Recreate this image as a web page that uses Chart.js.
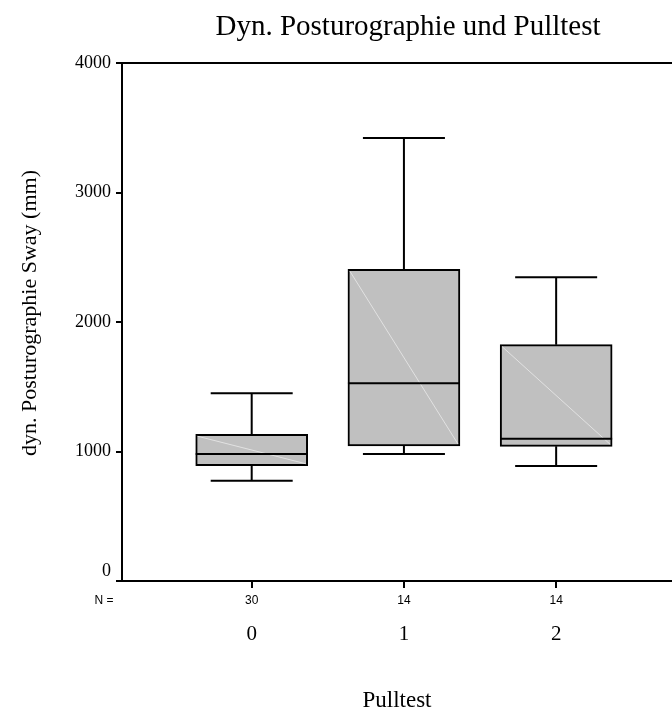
<!DOCTYPE html>
<html><head><meta charset="utf-8">
<script src="https://cdn.jsdelivr.net/npm/chart.js@4.4.0/dist/chart.umd.min.js"></script>
<style>html,body{margin:0;padding:0;background:#fff;}</style>
</head><body>
<canvas id="c" width="672" height="711" style="display:block;width:672px;height:711px"></canvas>
<script>
// ---- data ----
const categories = ['0', '1', '2'];
const nCounts = [30, 14, 14];
const whiskerLow = [774, 981, 888];
const q1 = [890, 1043, 1040];
const median = [981, 1527, 1099];
const q3 = [1133, 2407, 1825];
const whiskerHigh = [1449, 3421, 2345];
const yTicks = [0, 1000, 2000, 3000, 4000];

const titleText = 'Dyn. Posturographie und Pulltest';
const yTitle = 'dyn. Posturographie Sway (mm)';
const xTitle = 'Pulltest';
const nLabel = 'N =';

const SERIF = '"Liberation Serif", "Times New Roman", serif';
const SANS = '"Liberation Sans", Arial, sans-serif';

const boxParts = {
  id: 'boxParts',
  afterDatasetsDraw(chart) {
    const { ctx, scales: { x, y } } = chart;
    const meta = chart.getDatasetMeta(0);
    const capHalf = 41;
    ctx.save();
    categories.forEach((c, i) => {
      const bar = meta.data[i];
      const p = bar.getProps(['x', 'width'], true);
      const cx = x.getPixelForValue(i);
      const left = p.x - p.width / 2, right = p.x + p.width / 2;
      const yQ1 = y.getPixelForValue(q1[i]), yQ3 = y.getPixelForValue(q3[i]);
      // faint diagonal
      ctx.strokeStyle = '#e2e2e2';
      ctx.lineWidth = 1;
      ctx.beginPath();
      ctx.moveTo(left + 2, yQ3 + 2);
      ctx.lineTo(right - 2, yQ1 - 2);
      ctx.stroke();
      ctx.strokeStyle = '#000';
      ctx.lineWidth = 2;
      // median
      const yM = y.getPixelForValue(median[i]);
      ctx.beginPath(); ctx.moveTo(left, yM); ctx.lineTo(right, yM); ctx.stroke();
      // whiskers
      const yH = y.getPixelForValue(whiskerHigh[i]);
      const yL = y.getPixelForValue(whiskerLow[i]);
      ctx.beginPath();
      ctx.moveTo(cx, yQ3); ctx.lineTo(cx, yH);
      ctx.moveTo(cx - capHalf, yH); ctx.lineTo(cx + capHalf, yH);
      ctx.moveTo(cx, yQ1); ctx.lineTo(cx, yL);
      ctx.moveTo(cx - capHalf, yL); ctx.lineTo(cx + capHalf, yL);
      ctx.stroke();
    });
    ctx.restore();
  },
  afterDraw(chart) {
    const { ctx, chartArea, scales: { x } } = chart;
    ctx.save();
    // top frame line
    ctx.strokeStyle = '#000';
    ctx.lineWidth = 2;
    ctx.beginPath();
    ctx.moveTo(chartArea.left, chartArea.top);
    ctx.lineTo(chartArea.right, chartArea.top);
    ctx.stroke();
    ctx.fillStyle = '#000';
    ctx.textAlign = 'center';
    ctx.textBaseline = 'middle';
    // title
    ctx.font = '29px ' + SERIF;
    ctx.fillText(titleText, 408, 27);
    // y axis title
    ctx.save();
    ctx.translate(30, 313);
    ctx.rotate(-Math.PI / 2);
    ctx.font = '22px ' + SERIF;
    ctx.fillText(yTitle, 0, 0);
    ctx.restore();
    // N row
    ctx.font = '12px ' + SANS;
    ctx.fillText(nLabel, 104, 601);
    nCounts.forEach((n, i) => ctx.fillText(String(n), x.getPixelForValue(i), 601));
    ctx.restore();
  }
};

new Chart(document.getElementById('c'), {
  type: 'bar',
  data: {
    datasets: [{
      data: categories.map((c, i) => ({ x: i, y: [q1[i], q3[i]] })),
      backgroundColor: '#c0c0c0',
      borderColor: '#000',
      borderWidth: 2,
      borderSkipped: false,
      barThickness: 112
    }]
  },
  options: {
    responsive: false,
    animation: false,
    devicePixelRatio: 1,
    layout: { padding: { top: 63, left: 0, right: 0, bottom: 0 } },
    plugins: { legend: { display: false }, tooltip: { enabled: false }, title: { display: false } },
    scales: {
      x: {
        type: 'linear', min: -0.852, max: 2.761, offset: false,
        afterBuildTicks: s => { s.ticks = categories.map((c, i) => ({ value: i })); },
        afterFit: s => { s.height = 130; },
        grid: { display: true, offset: false, drawOnChartArea: false, drawTicks: true, tickLength: 7, color: '#000', lineWidth: 2 },
        border: { display: true, color: '#000', width: 2 },
        ticks: { callback: v => categories[v], font: { family: SERIF, size: 21 }, color: '#000', padding: 34, maxRotation: 0, autoSkip: false },
        title: { display: true, text: xTitle, font: { family: SERIF, size: 23, lineHeight: 0.9 }, color: '#000', padding: { top: 0, bottom: 0 } }
      },
      y: {
        min: 0, max: 4000,
        afterBuildTicks: s => { s.ticks = yTicks.map(v => ({ value: v })); },
        afterFit: s => { s.width = 122; },
        grid: { display: true, drawOnChartArea: false, drawTicks: true, tickLength: 6, color: '#000', lineWidth: 2 },
        border: { display: true, color: '#000', width: 2 },
        ticks: { callback: v => (v === 0 ? ['0', ''] : String(v)), font: { family: SERIF, size: 18, lineHeight: 1.05 }, color: '#000', padding: 5 },
        title: { display: false }
      }
    }
  },
  plugins: [boxParts]
});
</script>
</body></html>
